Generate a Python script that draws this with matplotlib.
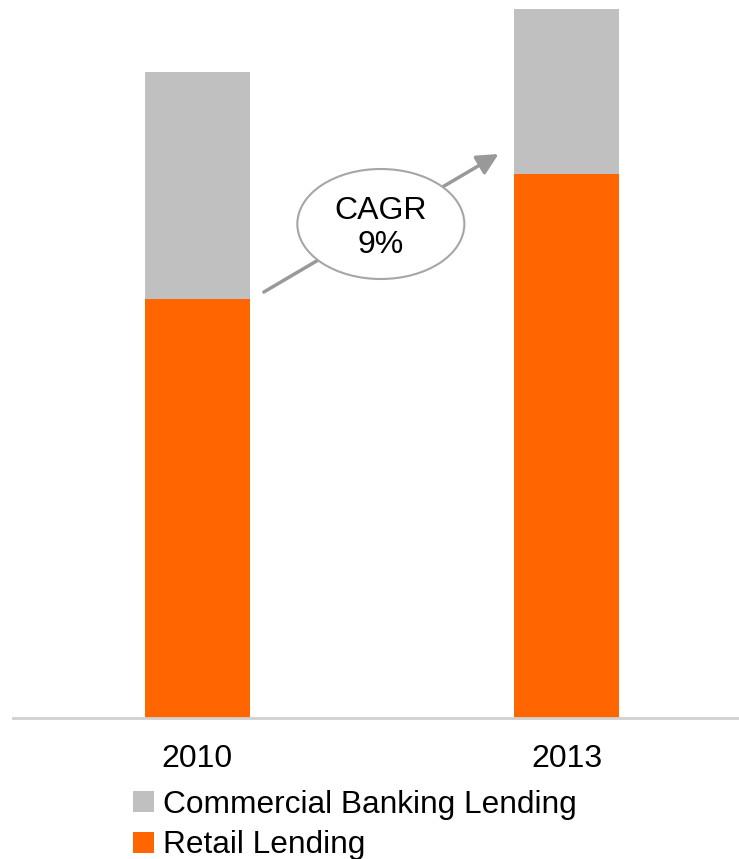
import matplotlib.pyplot as plt
from matplotlib.patches import Ellipse, Patch

plt.rcParams['font.family'] = ['Liberation Sans', 'DejaVu Sans']

years = ['2010', '2013']
retail = [41.9, 54.4]
commercial = [22.7, 16.5]
cagr_label = 'CAGR\n9%'

orange = '#FF6600'
grey = '#C0C0C0'

fig = plt.figure(figsize=(7.39, 8.59), dpi=100)
# axes spans the full width, bottom edge sits on the baseline
ax = fig.add_axes([0, 141 / 859, 1, 718 / 859])

x = [0, 1]
w = 0.2846
ax.bar(x, retail, width=w, color=orange, zorder=2)
ax.bar(x, commercial, width=w, bottom=retail, color=grey, zorder=2)

ax.set_xlim(-0.535, 1.4675)
ax.set_ylim(0, 71.8)

for s in ax.spines.values():
    s.set_visible(False)
ax.axhline(0, xmin=13 / 739, xmax=1, color='#D0D0D0', lw=2, zorder=3, clip_on=False)

ax.set_yticks([])
ax.set_xticks(x)
ax.set_xticklabels(years, fontsize=23)
ax.tick_params(axis='x', length=0, pad=19)

# growth arrow with the CAGR bubble on top
ax.annotate('', xy=(0.816, 56.4), xytext=(0.18, 42.6),
            arrowprops=dict(arrowstyle='-|>', color='#999999', lw=2.5,
                            mutation_scale=32, shrinkA=0, shrinkB=0),
            zorder=4)
ax.add_patch(Ellipse((0.497, 49.4), 0.4526, 11.0, facecolor='white',
                     edgecolor='#A6A6A6', lw=1.5, zorder=5))
ax.text(0.497, 49.0, cagr_label, ha='center', va='center', fontsize=23,
        linespacing=1.2, zorder=6)

handles = [Patch(facecolor=grey, label='Commercial Banking Lending'),
           Patch(facecolor=orange, label='Retail Lending')]
fig.legend(handles=handles, loc='upper left', bbox_to_anchor=(133 / 739, 1 - 790 / 859),
           frameon=False, fontsize=22.8, handlelength=0.67, handleheight=0.64,
           handletextpad=0.27, labelspacing=0.33, borderpad=0, borderaxespad=0)

fig.savefig('out.png', dpi=100)
